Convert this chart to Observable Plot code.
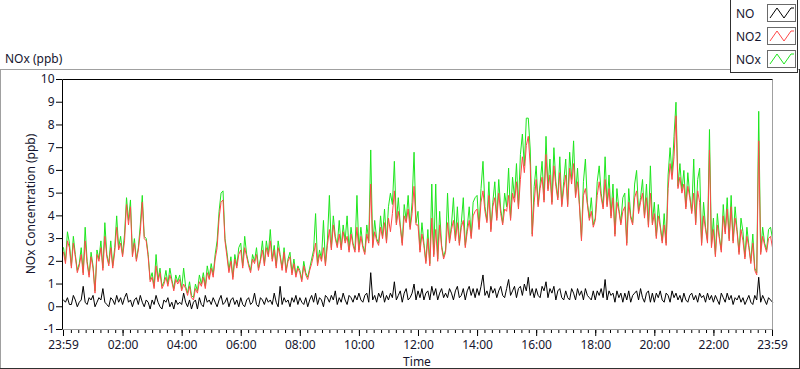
<!DOCTYPE html>
<html><head><meta charset="utf-8">
<script src="https://cdn.jsdelivr.net/npm/d3@7"></script>
<script src="https://cdn.jsdelivr.net/npm/@observablehq/plot@0.6"></script>
<style>
html,body{margin:0;padding:0;background:#fff;}
#chart{position:relative;width:800px;height:369px;overflow:hidden;}
</style></head><body><div id="chart"></div>
<script>
// ---- data ----
const seriesNames = ["NO", "NO2", "NOx"];
const seriesColors = {NO: "#000000", NO2: "#ff4848", NOx: "#1ee61e"};
const startTime = "2023-12-31T23:59:00Z";
const endTime = "2024-01-01T23:59:00Z";
const stepMinutes = 4;
const majorTickLabels = ["23:59","02:00","04:00","06:00","08:00","10:00","12:00","14:00","16:00","18:00","20:00","22:00","23:59"];
const yTicks = [-1,0,1,2,3,4,5,6,7,8,9,10];

const NO2 = [
2.4,1.9,2.9,2.6,1.7,2.8,2.2,1.5,1.8,2.3,1.4,2.9,1.9,1.3,2.2,
1.7,0.6,2.3,2.0,2.6,1.6,3.1,2.2,1.8,2.6,1.7,2.4,3.5,2.5,2.8,
2.2,2.9,4.5,3.6,4.4,2.2,2.8,2.0,2.5,3.3,4.6,3.0,2.9,2.2,1.1,
1.3,0.8,1.8,1.1,1.5,0.8,1.0,1.3,0.9,1.4,1.1,0.7,1.2,1.0,1.2,
0.7,1.0,0.8,0.5,0.9,0.4,0.3,0.8,0.6,1.1,0.9,1.3,0.8,1.5,1.2,
1.7,1.3,2.1,2.6,3.9,4.6,4.7,2.9,2.2,1.5,2.0,1.2,2.1,1.7,2.3,
2.5,1.7,2.6,2.2,1.8,1.5,2.1,1.9,2.3,1.6,2.0,2.5,1.8,2.6,2.2,
2.9,2.0,2.5,1.7,2.6,2.2,1.6,2.4,1.5,2.0,2.2,1.4,1.9,1.3,1.7,
1.5,1.1,1.8,1.4,1.2,1.6,1.9,2.3,2.8,1.8,2.3,2.0,2.6,1.8,2.7,
3.4,2.5,3.6,3.0,2.6,3.2,2.5,3.3,2.8,3.1,2.4,3.2,2.7,2.4,3.5,
2.4,3.1,2.6,2.3,3.2,2.8,5.4,2.6,3.3,2.9,2.7,3.5,3.0,3.7,2.8,
3.9,3.3,4.1,5.1,3.6,4.2,3.5,2.7,4.0,3.7,4.3,3.4,4.1,5.3,3.6,
3.6,2.4,3.2,2.7,1.9,3.0,1.8,3.9,2.2,3.4,2.0,3.6,2.6,2.1,2.4,
3.7,2.8,3.4,3.8,2.9,3.7,2.7,3.5,3.8,2.6,3.3,3.8,3.0,4.0,4.2,
4.3,3.4,4.6,5.1,4.2,3.7,4.9,3.3,4.4,4.8,3.8,5.0,4.1,3.6,4.3,
4.2,4.9,3.8,5.0,4.6,5.5,4.3,5.6,6.6,5.9,7.1,7.5,6.2,3.1,4.6,
5.6,4.4,5.2,5.7,4.6,6.7,5.1,5.8,4.5,6.2,5.3,4.7,5.9,4.4,5.2,
5.8,4.4,6.1,5.4,6.3,4.8,5.5,4.4,2.9,4.9,5.2,4.5,3.8,4.2,3.5,
3.8,4.9,5.5,4.8,4.3,5.6,4.4,5.2,3.9,4.8,3.1,4.6,4.2,3.6,4.2,
4.4,2.7,4.6,3.9,3.6,4.8,5.1,4.1,4.6,5.0,3.9,4.8,3.5,5.0,3.6,
4.1,3.0,4.0,3.5,2.8,3.6,2.7,5.2,6.3,5.6,6.6,8.4,5.2,5.7,5.0,
5.4,4.3,5.3,4.8,4.1,5.0,3.6,5.1,4.6,2.7,4.0,3.4,2.8,6.9,2.6,
3.4,2.2,3.6,3.0,2.4,4.0,3.2,4.3,2.9,4.4,2.8,3.9,3.3,2.3,3.4,
2.9,2.1,3.1,2.6,1.9,2.8,1.6,1.4,7.3,2.3,3.1,2.7,2.4,3.0,3.1,
2.6];

const NO = [
0.3,0.2,0.4,0.1,0.1,0.5,0.3,0.0,0.2,0.3,0.9,0.2,0.1,0.4,0.3,
0.5,0.0,0.2,0.4,0.3,0.8,0.2,0.1,0.0,0.4,0.3,0.1,0.5,0.2,0.4,
0.1,0.4,0.6,0.2,0.3,0.0,0.3,0.4,0.1,0.5,0.2,0.0,0.3,0.2,-0.1,
0.3,0.1,0.5,0.2,0.0,-0.1,0.3,0.2,0.4,0.0,0.2,-0.1,0.3,0.1,0.2,
0.1,0.6,0.2,0.0,0.3,-0.1,0.2,0.3,-0.1,0.4,0.1,0.0,0.5,0.2,0.3,
0.1,0.4,0.2,0.0,0.3,0.5,0.1,0.2,0.4,0.0,0.3,0.4,0.1,0.3,0.0,
0.4,0.1,0.0,0.3,0.4,0.1,0.2,0.6,0.1,0.0,0.4,0.3,0.1,0.4,0.2,
0.3,0.1,0.6,0.2,0.0,0.9,0.1,0.4,0.2,0.3,0.0,0.4,0.2,0.5,0.1,
0.4,0.2,0.1,0.4,0.0,0.3,0.5,0.2,0.6,0.1,0.4,0.3,0.0,0.5,0.4,
0.2,0.5,0.3,0.7,0.1,0.4,0.2,0.6,0.3,0.1,0.5,0.4,0.2,0.5,0.3,
0.6,0.3,0.2,0.5,0.6,0.2,1.5,0.3,0.5,0.2,0.6,0.4,0.7,0.2,0.5,
0.3,0.6,0.4,1.1,0.3,0.5,0.7,0.2,0.6,0.8,0.3,0.4,0.6,1.0,0.3,
0.7,0.4,0.8,0.3,0.6,0.7,0.3,0.9,0.5,0.8,0.3,0.6,0.8,0.4,0.6,
0.4,0.8,0.6,0.3,0.7,0.9,0.4,0.5,0.8,0.3,0.7,0.9,0.5,0.8,0.4,
0.8,0.5,0.9,1.4,0.5,0.7,0.4,0.9,0.6,0.8,0.4,0.7,0.9,0.5,0.4,
0.8,1.2,0.5,0.7,0.9,0.4,0.8,0.9,0.5,1.0,0.7,1.3,0.5,0.8,0.4,
0.8,0.5,0.4,0.9,0.7,1.1,0.4,0.8,0.6,0.9,0.3,0.7,0.8,0.4,0.3,
0.7,0.4,0.3,0.8,0.6,0.3,0.8,0.5,0.7,0.3,0.8,0.5,0.4,0.3,0.7,
0.3,0.7,0.5,0.8,0.4,1.2,0.3,0.7,0.5,0.6,0.2,0.7,0.4,0.6,0.2,
0.6,0.3,0.7,0.2,0.5,0.6,0.7,0.3,0.8,0.4,0.2,0.6,0.7,0.2,0.6,
0.2,0.6,0.4,0.7,0.3,0.2,0.6,0.5,0.2,0.7,0.4,0.6,0.3,0.5,0.2,
0.6,0.3,0.2,0.5,0.6,0.3,0.5,0.2,0.6,0.4,0.5,0.2,0.6,0.3,0.5,
0.2,0.5,0.3,0.1,0.6,0.4,0.2,0.6,0.3,0.5,0.1,0.4,0.3,0.5,0.2,
0.4,0.1,0.3,0.5,0.2,0.1,0.5,0.3,1.3,0.2,0.5,0.3,0.1,0.4,0.3,
0.2];

const NOx = [
2.6,2.0,3.3,2.8,1.8,3.1,2.3,1.6,1.9,2.6,1.5,3.5,2.0,1.4,2.4,
1.8,0.7,2.5,2.1,2.9,1.7,3.7,2.3,1.9,2.9,1.8,2.6,4.0,2.6,3.1,
2.3,3.2,4.8,3.8,4.7,2.3,3.0,2.1,2.6,3.6,4.9,3.1,3.0,2.3,1.2,
1.5,0.9,2.3,1.2,1.7,0.9,1.1,1.6,1.0,1.7,1.2,0.8,1.4,1.1,1.4,
0.8,1.7,0.9,0.6,1.1,0.5,0.4,1.0,0.7,1.4,1.0,1.5,0.9,1.8,1.3,
1.9,1.4,2.3,2.9,4.2,5.0,5.1,3.0,2.4,1.6,2.2,1.3,2.3,1.8,2.6,
2.8,1.8,3.1,2.3,1.9,1.6,2.3,2.0,2.6,1.7,2.1,2.9,1.9,2.9,2.3,
3.4,2.1,2.7,1.8,2.9,2.3,1.7,2.6,1.6,2.1,2.4,1.5,2.1,1.4,1.8,
1.6,1.2,2.0,1.5,1.3,1.7,2.1,2.5,4.1,1.9,2.5,2.1,3.8,1.9,2.9,
4.9,2.6,4.0,3.1,2.7,3.8,2.6,3.6,2.9,4.0,2.5,3.5,2.8,2.5,4.9,
2.5,3.5,2.7,2.4,3.6,2.9,6.9,2.7,3.8,3.0,2.8,4.0,3.1,4.3,2.9,
4.4,5.0,4.5,6.4,3.7,4.8,3.6,2.8,4.5,3.8,4.9,3.5,4.6,6.8,3.7,
4.2,2.5,3.7,2.8,2.0,3.4,1.9,5.4,2.3,5.4,2.1,4.2,2.7,2.2,2.5,
5.0,2.9,3.6,4.8,3.0,4.4,2.8,3.7,4.8,2.7,3.5,4.4,3.1,4.6,4.8,
4.9,3.5,5.2,6.4,4.4,3.8,5.5,3.4,4.6,5.5,3.9,5.6,4.3,3.7,5.0,
4.4,6.1,3.9,5.7,4.8,6.3,4.4,6.7,7.6,6.2,8.3,8.3,6.9,3.2,5.3,
6.2,4.5,5.4,6.4,4.7,7.5,5.2,6.5,4.6,7.0,5.5,4.8,6.6,4.5,5.5,
6.5,4.5,6.8,5.6,7.3,4.9,6.1,4.5,3.0,5.5,6.5,4.6,3.9,4.8,3.6,
3.9,5.5,6.2,5.0,4.4,6.6,4.5,5.8,4.0,5.4,3.2,5.2,4.3,3.7,4.8,
5.0,2.8,5.2,4.0,3.7,5.4,6.0,4.2,4.8,5.6,4.0,5.4,3.6,6.2,3.7,
4.6,3.1,4.5,3.6,2.9,4.1,2.8,5.8,7.0,5.8,7.5,9.0,5.3,6.3,5.1,
6.0,4.4,5.9,4.9,4.2,6.5,3.7,5.6,6.1,2.8,4.6,3.5,2.9,7.8,2.7,
3.9,2.3,4.1,3.1,2.5,4.5,3.3,4.8,3.0,4.9,2.9,4.4,3.4,2.4,3.9,
3.3,2.2,3.5,2.7,2.0,3.2,1.7,1.5,8.6,2.4,3.5,2.8,2.5,3.4,3.5,
3.0];

// ---- build table ----
const t0 = new Date(startTime), t1 = new Date(endTime);
const n = Math.min(NO.length, NO2.length, NOx.length);
const data = d3.range(n).map(i => ({
  time: new Date(+t0 + i * stepMinutes * 60000),
  NO: NO[i], NO2: NO2[i], NOx: NOx[i]
}));

const dayStart = new Date("2024-01-01T00:00:00Z");
const majorTicks = [t0, ...d3.utcHour.every(2).range(new Date(+dayStart + 2*3600e3), new Date(+dayStart + 23*3600e3)), t1];
const minorTicks = d3.utcMinute.every(15).range(new Date(+dayStart + 15*60e3), t1);
const labelOf = new Map(majorTicks.map((d, i) => [+d, majorTickLabels[i]]));

const FONT = "'Noto Sans', 'DejaVu Sans', sans-serif";
const TEXT = "#15152e";

const plot = Plot.plot({
  width: 800, height: 369,
  marginLeft: 62, marginRight: 27, marginTop: 79, marginBottom: 40,
  style: {fontFamily: FONT, fontSize: "12px", color: "#000", background: "#fff", overflow: "visible"},
  x: {type: "utc", domain: [t0, t1], range: [63, 772]},
  y: {domain: [-1, 10], range: [329, 79]},
  marks: [
    Plot.axisY({ticks: yTicks, tickSize: 6, tickPadding: 2, label: null, fontSize: 12, tickFormat: d => String(d)}),
    Plot.axisX({ticks: minorTicks, tickSize: 4, tickFormat: () => "", label: null}),
    Plot.axisX({ticks: majorTicks, tickSize: 7, tickPadding: 4, fontSize: 12, label: null, tickFormat: d => labelOf.get(+d)}),
    Plot.line(data, {x: "time", y: "NOx", stroke: seriesColors.NOx, strokeWidth: 1}),
    Plot.line(data, {x: "time", y: "NO2", stroke: seriesColors.NO2, strokeWidth: 1}),
    Plot.line(data, {x: "time", y: "NO", stroke: seriesColors.NO, strokeWidth: 1})
  ]
});
document.getElementById("chart").appendChild(plot);

// ---- decorations ----
const svg = d3.select(plot);
svg.selectAll("text").attr("fill", TEXT);
const deco = svg.append("g").attr("text-anchor", "start");
// outer panel
deco.append("line").attr("x1", 0).attr("x2", 800).attr("y1", 69.5).attr("y2", 69.5).attr("stroke", "#a0a0a0");
deco.append("line").attr("x1", 0.5).attr("x2", 0.5).attr("y1", 69.5).attr("y2", 369).attr("stroke", "#a0a0a0");
deco.append("line").attr("x1", 799.5).attr("x2", 799.5).attr("y1", 69).attr("y2", 369).attr("stroke", "#303030");
deco.append("line").attr("x1", 0).attr("x2", 800).attr("y1", 368.5).attr("y2", 368.5).attr("stroke", "#303030");
// plot frame
deco.append("line").attr("x1", 62.5).attr("x2", 772.5).attr("y1", 329.5).attr("y2", 329.5).attr("stroke", "#a0a0a0");
deco.append("line").attr("x1", 772.5).attr("x2", 772.5).attr("y1", 79.5).attr("y2", 329.5).attr("stroke", "#a0a0a0");
deco.append("line").attr("x1", 62.5).attr("x2", 772.5).attr("y1", 79.5).attr("y2", 79.5).attr("stroke", "#000");
deco.append("line").attr("x1", 62.5).attr("x2", 62.5).attr("y1", 79.5).attr("y2", 329.5).attr("stroke", "#000");

// titles
deco.append("text").attr("x", 5).attr("y", 63).attr("fill", TEXT).attr("text-anchor", "start")
  .style("font", `12px ${FONT}`).text("NOx (ppb)");
deco.append("text").attr("transform", "translate(35,204) rotate(-90)").attr("text-anchor", "middle")
  .attr("fill", TEXT).style("font", `12px ${FONT}`).text("NOx Concentration (ppb)");
deco.append("text").attr("x", 417).attr("y", 366).attr("text-anchor", "middle")
  .attr("fill", TEXT).style("font", `12px ${FONT}`).text("Time");

// legend
const lg = deco.append("g").attr("transform", "translate(730,0)");
lg.append("rect").attr("x", 0.5).attr("y", -2).attr("width", 67).attr("height", 74.5)
  .attr("fill", "#fff").attr("stroke", "#303030");
seriesNames.forEach((name, i) => {
  const gy = 4 + 23 * i;
  lg.append("text").attr("x", 6).attr("y", gy + 13.5).attr("fill", TEXT).attr("text-anchor", "start")
    .style("font", `12px ${FONT}`).text(name);
  lg.append("rect").attr("x", 37.5).attr("y", gy + 0.5).attr("width", 28).attr("height", 17)
    .attr("fill", "#fff").attr("stroke", "#6a6a6a");
  lg.append("polyline")
    .attr("points", [[40, gy + 14], [47, gy + 4], [54, gy + 14], [61, gy + 4], [64, gy + 4]].map(p => p.join(",")).join(" "))
    .attr("fill", "none").attr("stroke", seriesColors[name]).attr("stroke-width", 1);
});
</script>
</body></html>
